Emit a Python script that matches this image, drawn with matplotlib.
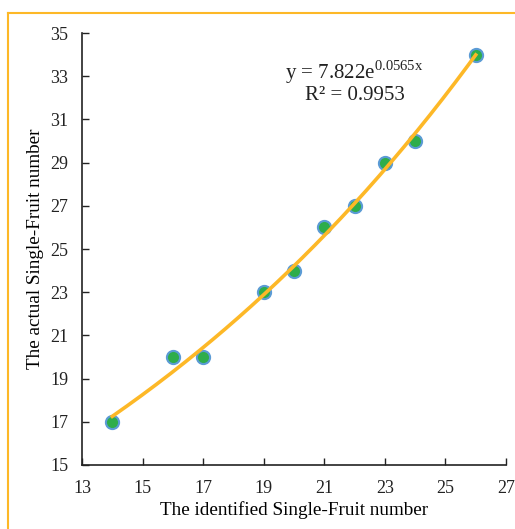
import numpy as np
import matplotlib.pyplot as plt
from matplotlib.lines import Line2D

plt.rcParams['font.family'] = ['Liberation Serif', 'DejaVu Serif']
plt.rcParams['mathtext.fontset'] = 'custom'
plt.rcParams['mathtext.rm'] = 'Liberation Serif'

# identified vs actual single-fruit counts
identified = [14, 16, 17, 19, 20, 21, 22, 23, 24, 26]
actual = [17, 20, 20, 23, 24, 26, 27, 29, 30, 34]
fit_a = 7.822
fit_b = 0.0565
x_ticks = [13, 15, 17, 19, 21, 23, 25, 27]
y_ticks = [15, 17, 19, 21, 23, 25, 27, 29, 31, 33, 35]

fig = plt.figure(figsize=(5.15, 5.29), dpi=100)
ax = fig.add_axes([0.1592, 0.121, 0.8233, 0.8166])

ax.scatter(identified, actual, s=90, c='#2ead4b', edgecolors='#5b9bd5',
           linewidths=1.5, zorder=3)
xf = np.linspace(min(identified), max(identified), 200)
ax.plot(xf, fit_a * np.exp(fit_b * xf), color='#fdb827', lw=2.6, zorder=4)

ax.set_xlim(13, 27)
ax.set_ylim(15, 35)
ax.set_xticks(x_ticks)
ax.set_yticks(y_ticks)
ax.tick_params(direction='in', length=5, width=1, labelsize=13,
               colors='#222222')
ax.tick_params(axis='y', pad=10)
ax.tick_params(axis='x', pad=11)
for s in ['top', 'right']:
    ax.spines[s].set_visible(False)
for s in ['left', 'bottom']:
    ax.spines[s].set_linewidth(1.2)
    ax.spines[s].set_color('#222222')

ax.set_xlabel('The identified Single-Fruit number', fontsize=13.8, labelpad=3)
ax.set_ylabel('The actual Single-Fruit number', fontsize=13.8, labelpad=4)

ax.text(22.0, 33.2, r'y = 7.822e$^{\mathrm{0.0565x}}$', fontsize=15,
        ha='center', va='center', color='#222222')
ax.text(22.0, 32.1, 'R² = 0.9953', fontsize=15, ha='center', va='center',
        color='#222222')

# orange frame around the chart area
fig.add_artist(Line2D([8 / 515, 8 / 515], [0, 1 - 13 / 529],
                      transform=fig.transFigure, color='#fdb827', lw=1.5))
fig.add_artist(Line2D([8 / 515, 1], [1 - 13 / 529, 1 - 13 / 529],
                      transform=fig.transFigure, color='#fdb827', lw=1.5))

fig.savefig('out.png', dpi=100)
